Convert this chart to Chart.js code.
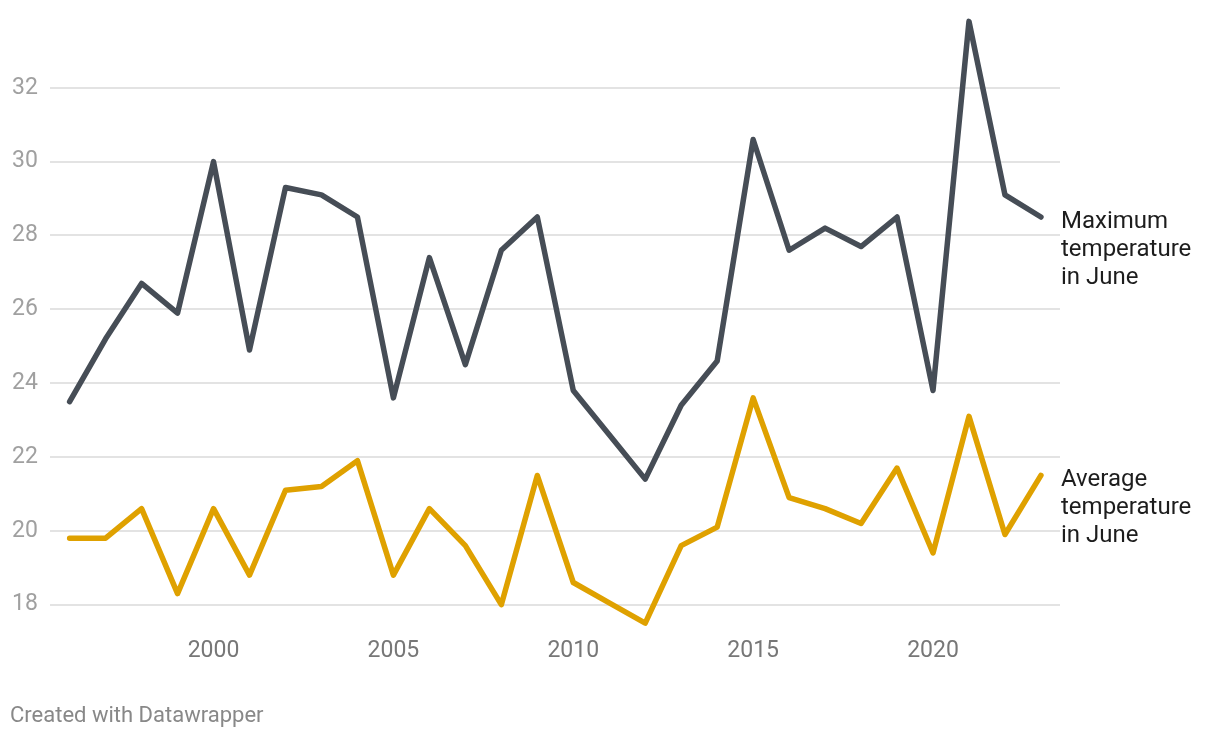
<!DOCTYPE html>
<html>
<head>
<meta charset="utf-8">
<script src="https://cdn.jsdelivr.net/npm/chart.js@4"></script>
<style>
  html, body { margin: 0; padding: 0; background: #fff; }
  #wrap { width: 1220px; height: 738px; position: relative; }
</style>
</head>
<body>
<div id="wrap"><canvas id="tempChart"></canvas></div>
<script>
const years = [1996, 1997, 1998, 1999, 2000, 2001, 2002, 2003, 2004, 2005,
    2006, 2007, 2008, 2009, 2010, 2011, 2012, 2013, 2014, 2015,
    2016, 2017, 2018, 2019, 2020, 2021, 2022, 2023];
const maxTemp = [23.5, 25.2, 26.7, 25.9, 30.0, 24.9, 29.3, 29.1, 28.5, 23.6,
    27.4, 24.5, 27.6, 28.5, 23.8, 22.6, 21.4, 23.4, 24.6, 30.6,
    27.6, 28.2, 27.7, 28.5, 23.8, 33.8, 29.1, 28.5];
const avgTemp = [19.8, 19.8, 20.6, 18.3, 20.6, 18.8, 21.1, 21.2, 21.9, 18.8,
    20.6, 19.6, 18.0, 21.5, 18.6, 18.05, 17.5, 19.6, 20.1, 23.6,
    20.9, 20.6, 20.2, 21.7, 19.4, 23.1, 19.9, 21.5];
const seriesLabels = [
    ['Maximum', 'temperature', 'in June'],
    ['Average', 'temperature', 'in June']
];
const yTicks = [18, 20, 22, 24, 26, 28, 30, 32];
const xTicks = [2000, 2005, 2010, 2015, 2020];
const footer = 'Created with Datawrapper';

const FONT = 'Roboto, "Noto Sans", sans-serif';

function toPoints(values) {
    return years.map((y, i) => ({ x: y, y: values[i] }));
}

const lineDefaults = {
    borderWidth: 5.5,
    pointRadius: 0,
    pointHoverRadius: 0,
    tension: 0,
    borderJoinStyle: 'round',
    borderCapStyle: 'round',
    fill: false,
    clip: false
};

// draws the end labels and the footer
const labelPlugin = {
    id: 'endLabels',
    afterDatasetsDraw(chart) {
        const ctx = chart.ctx;
        ctx.save();
        ctx.font = '24px ' + FONT;
        ctx.fillStyle = '#1d1d1d';
        ctx.textAlign = 'left';
        ctx.textBaseline = 'middle';
        chart.data.datasets.forEach((ds, i) => {
            const meta = chart.getDatasetMeta(i);
            const last = meta.data[meta.data.length - 1];
            seriesLabels[i].forEach((line, j) => {
                ctx.fillText(line, chart.chartArea.right + 1, last.y + 5 + j * 28);
            });
        });
        ctx.font = '22px ' + FONT;
        ctx.fillStyle = '#888888';
        ctx.fillText(footer, 10, 716);
        ctx.restore();
    }
};

const ctx = document.getElementById('tempChart').getContext('2d');
new Chart(ctx, {
    type: 'line',
    data: {
        datasets: [{
            label: 'Maximum temperature in June',
            data: toPoints(maxTemp),
            borderColor: '#464d56',
            ...lineDefaults
        }, {
            label: 'Average temperature in June',
            data: toPoints(avgTemp),
            borderColor: '#dfa100',
            ...lineDefaults
        }]
    },
    options: {
        responsive: true,
        maintainAspectRatio: false,
        animation: false,
        layout: {
            padding: { top: 2, right: 160, bottom: 61.6, left: 0 }
        },
        plugins: {
            legend: { display: false },
            tooltip: { enabled: false }
        },
        scales: {
            x: {
                type: 'linear',
                min: 1995.45,
                max: 2023.53,
                afterBuildTicks: axis => {
                    axis.ticks = xTicks.map(v => ({ value: v }));
                },
                grid: { display: false, drawTicks: false },
                border: { display: false },
                ticks: {
                    padding: 11,
                    color: '#777777',
                    font: { family: FONT, size: 23 },
                    callback: v => String(v)
                }
            },
            y: {
                min: 17.4,
                max: 33.68,
                afterBuildTicks: axis => {
                    axis.ticks = yTicks.map(v => ({ value: v }));
                },
                grid: { color: '#e3e3e3', lineWidth: 2, drawTicks: false },
                border: { display: false },
                ticks: {
                    padding: 12,
                    color: '#a0a0a0',
                    font: { family: FONT, size: 23 },
                    callback: v => String(v)
                }
            }
        }
    },
    plugins: [labelPlugin]
});
</script>
</body>
</html>
